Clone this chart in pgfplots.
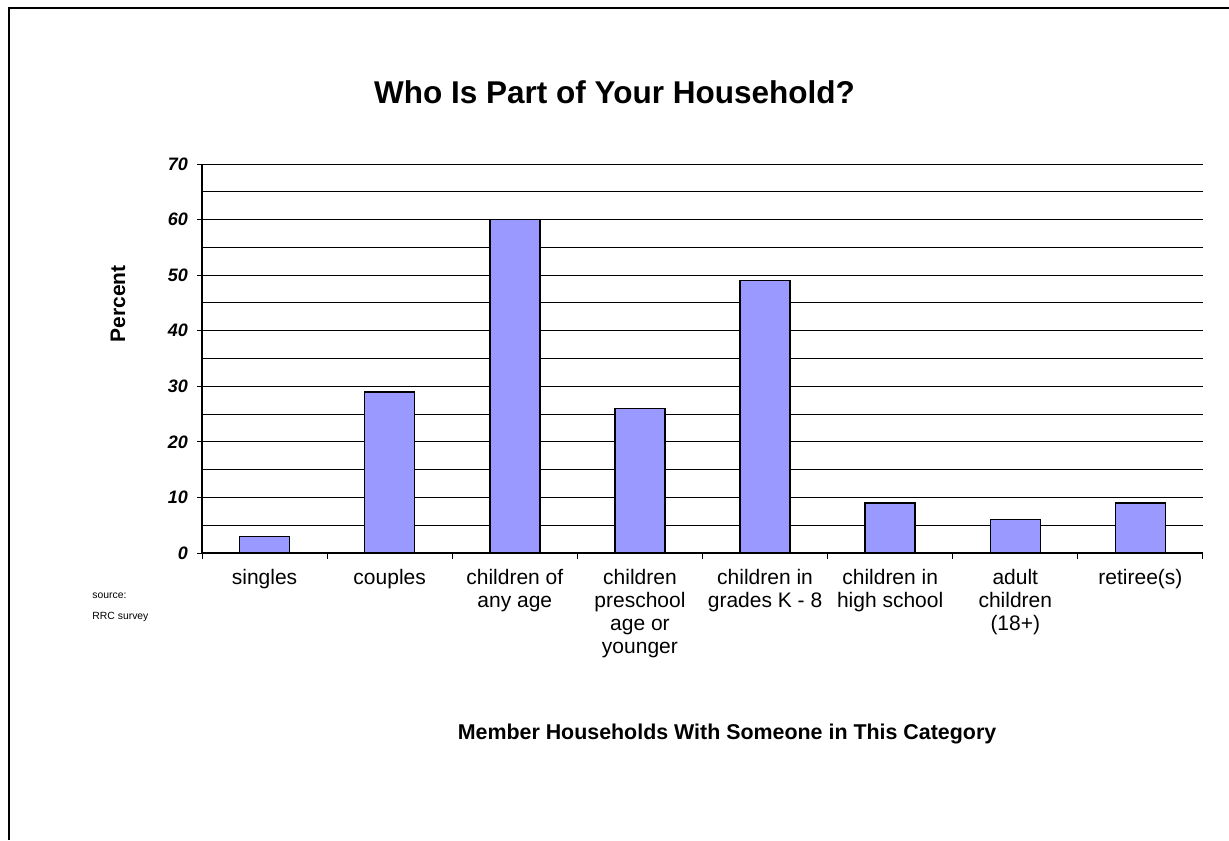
\documentclass[border=0pt]{standalone}
\usepackage{pgfplots}
\pgfplotsset{compat=1.18}
\usepackage{fontspec}
\setmainfont{Liberation Sans}
\definecolor{barblue}{HTML}{9999FF}
\begin{document}
\begin{tikzpicture}[x=1pt,y=1pt]
\useasboundingbox (-101,-143.5) rectangle (513.5,276.5);
\begin{axis}[
  at={(0,0)}, anchor=south west,
  scale only axis, width=500.5pt, height=194.5pt,
  xmin=0.5, xmax=8.5, ymin=0, ymax=70,
  axis lines*=left,
  axis line style={black, line width=0.6pt},
  xtick={1,...,8},
  xticklabels={singles,couples,{children of\\any age},{children\\preschool\\age or\\younger},{children in\\grades K - 8},{children in\\high school},{adult\\children\\(18+)},retiree(s)},
  minor xtick={0.5,1.5,...,8.5},
  major x tick style={draw=none},
  minor x tick style={black, line width=0.5pt},
  ytick={0,10,...,70},
  minor ytick={5,15,...,65},
  minor y tick style={draw=none},
  major y tick style={black, line width=0.5pt},
  tick align=outside,
  major tick length=2.5pt, minor tick length=3pt,
  ymajorgrids, yminorgrids,
  major grid style={black, line width=0.5pt},
  minor grid style={black, line width=0.5pt},
  /pgf/number format/assume math mode=true,
  yticklabel style={font=\fontsize{9}{9}\selectfont\bfseries\itshape, xshift=-1pt},
  xticklabel style={font=\fontsize{10.5}{11.5}\selectfont, align=center, yshift=-2pt},
  clip=false,
]
\addplot[ybar, bar width=25pt, fill=barblue, draw=black, line width=0.7pt] coordinates {
 (1,3) (2,29) (3,60) (4,26) (5,49) (6,9) (7,6) (8,9)
};
\end{axis}
\draw[line width=1pt, black] (-96.25,-143.5) -- (-96.25,272.25) -- (513.5,272.25);
\node[font=\fontsize{15.75}{18}\selectfont\bfseries] at (206.25,230.5) {Who Is Part of Your Household?};
\node[font=\fontsize{10.5}{12}\selectfont\bfseries, rotate=90] at (-42,124.5) {Percent};
\node[font=\fontsize{10.7}{12}\selectfont\bfseries] at (262.5,-90.5) {Member Households With Someone in This Category};
\node[font=\fontsize{5.2}{10.5}\selectfont, align=left, anchor=north west, inner sep=0pt] at (-55,-20) {source:\\RRC survey};
\end{tikzpicture}
\end{document}
